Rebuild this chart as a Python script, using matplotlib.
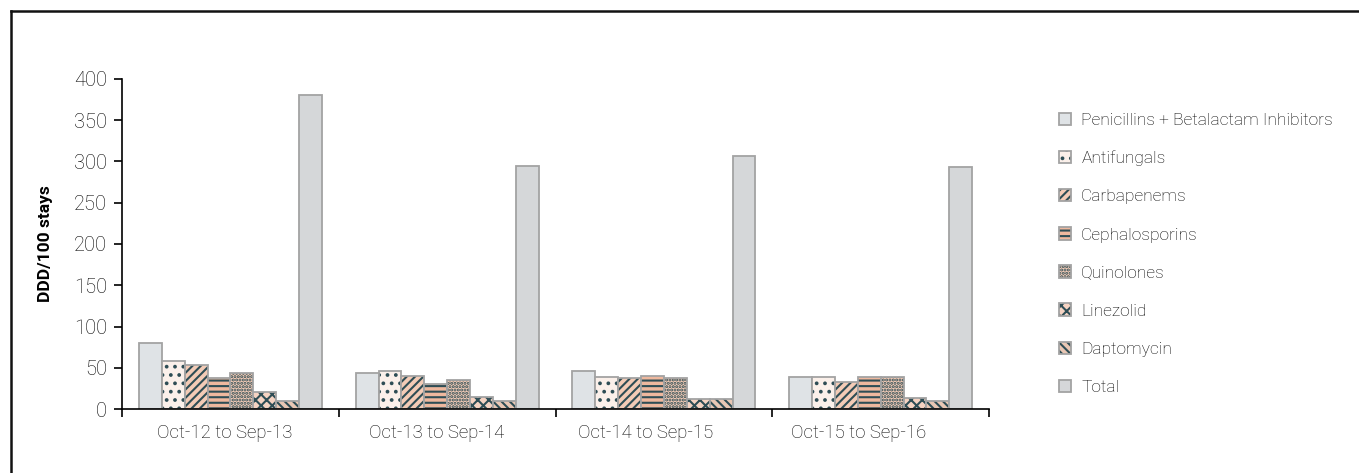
import numpy as np
import matplotlib
matplotlib.use('Agg')
import matplotlib.pyplot as plt
from matplotlib.lines import Line2D
from matplotlib.legend_handler import HandlerTuple

# data
periods = ['Oct-12 to Sep-13', 'Oct-13 to Sep-14', 'Oct-14 to Sep-15', 'Oct-15 to Sep-16']
series = ['Penicillins + Betalactam Inhibitors', 'Antifungals', 'Carbapenems',
          'Cephalosporins', 'Quinolones', 'Linezolid', 'Daptomycin', 'Total']
penicillins = [80, 44, 46, 39]
antifungals = [58, 46, 39, 39]
carbapenems = [53, 40, 37, 33]
cephalosporins = [37, 30, 40, 39]
quinolones = [44, 35, 37, 39]
linezolid = [21, 15, 12, 13]
daptomycin = [10, 10, 12, 10]
total = [381, 295, 307, 293]
values = [penicillins, antifungals, carbapenems, cephalosporins,
          quinolones, linezolid, daptomycin, total]

# look of each series: face colour, hatch
dark = '#2e4d55'
faces = ['#dfe3e6', '#fbf0ea', '#f3cbb6', '#eeb89e', '#f3cbb6', '#f5d3c2', '#e9c7b4', '#d5d7d9']
hatches = ['', '..', '////', '---', '.....', 'xxx', '\\\\\\\\', '']

plt.rcParams['font.family'] = ['Roboto', 'DejaVu Sans']
plt.rcParams['hatch.linewidth'] = 1.5

fig = plt.figure(figsize=(13.59, 4.73), dpi=100)
ax = fig.add_axes([0.0898, 0.1353, 0.638, 0.6977])

n = len(series)
w = 0.1055
x = np.arange(len(periods))
handles = []
for i in range(n):
    pos = x + (i - (n - 1) / 2) * w
    h1 = ax.bar(pos, values[i], w, color=faces[i], edgecolor=dark if hatches[i] else faces[i],
                hatch=hatches[i], linewidth=0, align='center')
    h2 = ax.bar(pos, values[i], w, fill=False, edgecolor='#a3a3a3', linewidth=1.3)
    handles.append((h1[0], h2[0]))

ax.set_xlim(-0.5, len(periods) - 0.5)
ax.set_ylim(0, 400)
ax.set_yticks(range(0, 401, 50))
# labels sit a little left of the group centres in the original
label_shift = np.array([-0.025, -0.05, -0.083, -0.1])
ax.set_xticks(x + label_shift)
ax.set_xticklabels(periods)
ax.set_xticks(np.arange(len(periods) + 1) - 0.5, minor=True)
ax.tick_params(axis='x', which='major', length=0, pad=11, labelsize=13.4)
ax.tick_params(axis='x', which='minor', length=6, width=1.2)
ax.tick_params(axis='y', length=6, width=1.2, labelsize=14.5, pad=5)
for lbl in ax.get_xticklabels() + ax.get_yticklabels():
    lbl.set_fontweight('light')
    lbl.set_color('#000000')
ax.spines['top'].set_visible(False)
ax.spines['right'].set_visible(False)
ax.spines['left'].set_linewidth(1.2)
ax.spines['bottom'].set_linewidth(1.2)
ax.set_ylabel('DDD/100 stays', fontsize=12.5, fontweight='bold', labelpad=15)

leg = fig.legend(handles, series, loc='upper left', bbox_to_anchor=(0.779, 0.762),
                 frameon=False, borderaxespad=0, borderpad=0, fontsize=12.5,
                 handlelength=0.7, handleheight=0.7, handletextpad=0.6, labelspacing=1.32,
                 handler_map={tuple: HandlerTuple(ndivide=1, pad=0)})
for t in leg.get_texts():
    t.set_fontweight('light')
    t.set_color('#000000')

# frame lines at top and left of the figure
fig.add_artist(Line2D([0.0081, 1.0], [0.9767, 0.9767], transform=fig.transFigure, color='#111111', lw=1.8))
fig.add_artist(Line2D([0.0081, 0.0081], [0.0, 0.9767], transform=fig.transFigure, color='#111111', lw=1.8))

fig.savefig('out.png', dpi=100)
